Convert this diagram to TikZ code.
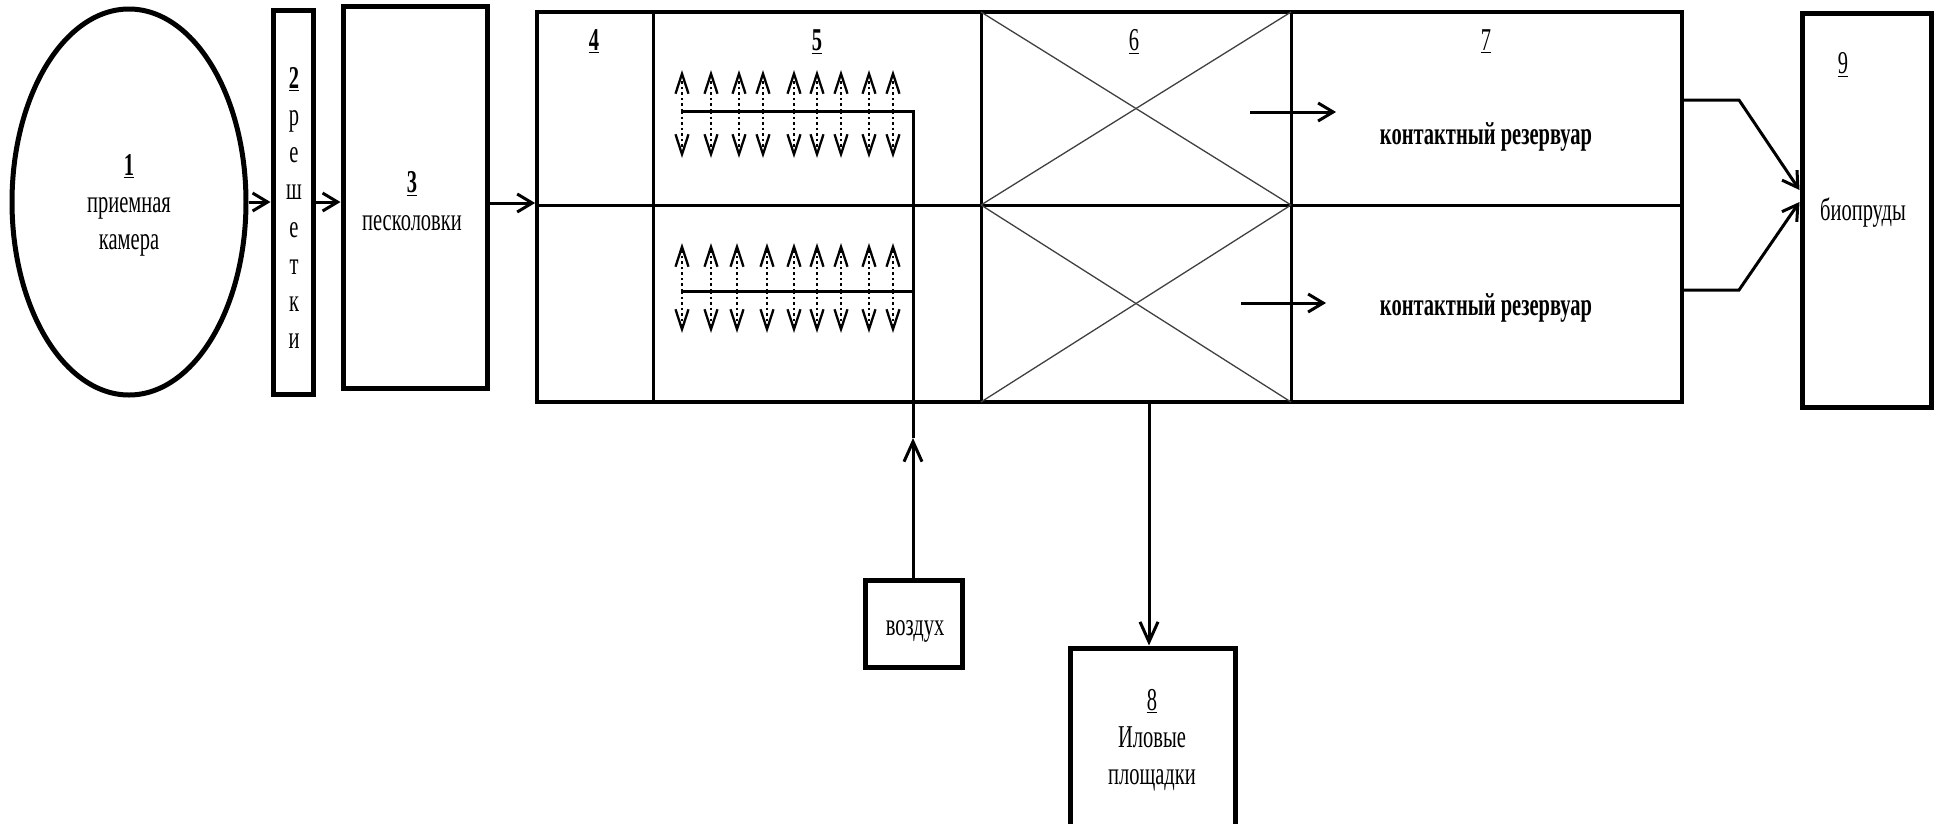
\documentclass[tikz,border=0pt]{standalone}
\usepackage{fontspec}
\setmainfont{Liberation Serif}
\usetikzlibrary{arrows.meta,shapes.geometric}
% tall, narrow lettering used throughout the scheme
\newcommand{\st}[1]{\scalebox{1}[1.55]{\begin{tabular}{@{}c@{}}#1\end{tabular}}}

\begin{document}
\begin{tikzpicture}[x=1pt,y=-1pt,
  txt/.style={font=\fontsize{20.5}{24}\selectfont, inner sep=0pt},
  boldtxt/.style={font=\fontsize{20.5}{24}\selectfont\bfseries, inner sep=0pt},
  heavybox/.style={draw, line width=5pt, inner sep=0pt},
  blockbox/.style={draw, line width=3.8pt, inner sep=0pt},
  divider/.style={line width=3pt},
  pipe/.style={line width=3pt},
  xline/.style={line width=1.3pt, black!75},
  arr/.style={line width=3pt, -{Straight Barb[length=15pt,width=18pt,line width=3pt]}},
  varr/.style={line width=3pt, -{Straight Barb[length=20pt,width=18pt,line width=3pt]}},
  aer/.style={line width=2.3pt, dash pattern=on 2.5pt off 3pt,
    -{Straight Barb[length=20pt,width=13pt,line width=2.3pt]}}]

\useasboundingbox (0,0) rectangle (1939,823);
\clip (0,0) rectangle (1939,823);

% --- treatment units ---
\node[ellipse, draw, line width=5pt, minimum width=234pt, minimum height=386pt, inner sep=0pt] (e1) at (129,202) {};
\node[heavybox, minimum width=40pt, minimum height=384pt] (b2) at (293,202) {};
\node[heavybox, minimum width=144pt, minimum height=382pt] (b3) at (415,197) {};
\node[blockbox, minimum width=1145pt, minimum height=390pt] (main) at (1109.5,207) {};
\node[heavybox, minimum width=129pt, minimum height=394pt] (b9) at (1866.5,210) {};
\node[heavybox, minimum width=97pt, minimum height=87pt] (air) at (914,623.5) {};
\node[heavybox, minimum width=165pt, minimum height=190pt] (b8) at (1152.5,743) {};

% --- internal partitions of the main block ---
\draw[divider] (main.west |- 0,205) -- (main.east |- 0,205);
\draw[divider] (653,12) -- (653,402);
\draw[divider] (981,12) -- (981,402);
\draw[divider] (1291,12) -- (1291,402);

% crossed cells (unit 6)
\draw[xline] (981,12) -- (1291,205);
\draw[xline] (981,205) -- (1291,12);
\draw[xline] (981,205) -- (1291,402);
\draw[xline] (981,402) -- (1291,205);

% --- air supply and aerators ---
\coordinate (airtip) at (913,438);
\draw[varr] (air.north -| airtip) -- (airtip);
\draw[pipe] (airtip) -- (913,111) -- (682,111);
\draw[pipe] (913,291) -- (682,291);
\foreach \x in {682,711,739,763,794,817,841,869,893} {
  \draw[aer] (\x,111) -- (\x,70);
  \draw[aer] (\x,111) -- (\x,158);
}
\foreach \x in {682,711,737,767,794,817,841,869,893} {
  \draw[aer] (\x,291) -- (\x,243);
  \draw[aer] (\x,291) -- (\x,333);
}

% --- flow connectors ---
\draw[arr] (e1.east) -- (b2.west |- e1.east);
\draw[arr] (b2.east) -- (b3.west |- b2.east);
\draw[arr] (b3.east |- 0,203) -- (main.west |- 0,203);
\draw[arr] (1250,112) -- (1336,112);
\draw[arr] (1241,303) -- (1326,303);
\draw[arr] (main.east |- 0,100) -- (1739,100) -- (b9.west |- 0,190);
\draw[arr] (main.east |- 0,290) -- (1739,290) -- (b9.west |- 0,202);
\draw[varr] (main.south -| 1149,0) -- (b8.north -| 1149,0);

% --- labels ---
\node[txt] (t1) at (129,205) {\st{\textbf{\underline{1}}\\приемная\\камера}};
\node[txt] (t2) at (294,211) {\st{\textbf{\underline{2}}\\р\\е\\ш\\е\\т\\к\\и}};
\node[txt] (t3) at (412,204) {\st{\textbf{\underline{3}}\\песколовки}};
\node[boldtxt] (t4) at (594,43) {\st{\underline{4}}};
\node[boldtxt] (t5) at (817,43) {\st{\underline{5}}};
\node[txt] (t6) at (1134,43) {\st{\underline{6}}};
\node[txt] (t7) at (1486,43) {\st{\underline{7}}};
\node[boldtxt] (t7a) at (1486,137) {\st{контактный резервуар}};
\node[boldtxt] (t7b) at (1486,308) {\st{контактный резервуар}};
\node[txt] (t9) at (1843,66) {\st{\underline{9}}};
\node[txt] (t9a) at (1863,213) {\st{биопруды}};
\node[txt] (tair) at (915,628) {\st{воздух}};
\node[txt] (t8) at (1152,740) {\st{\underline{8}\\Иловые\\площадки}};
\end{tikzpicture}
\end{document}
